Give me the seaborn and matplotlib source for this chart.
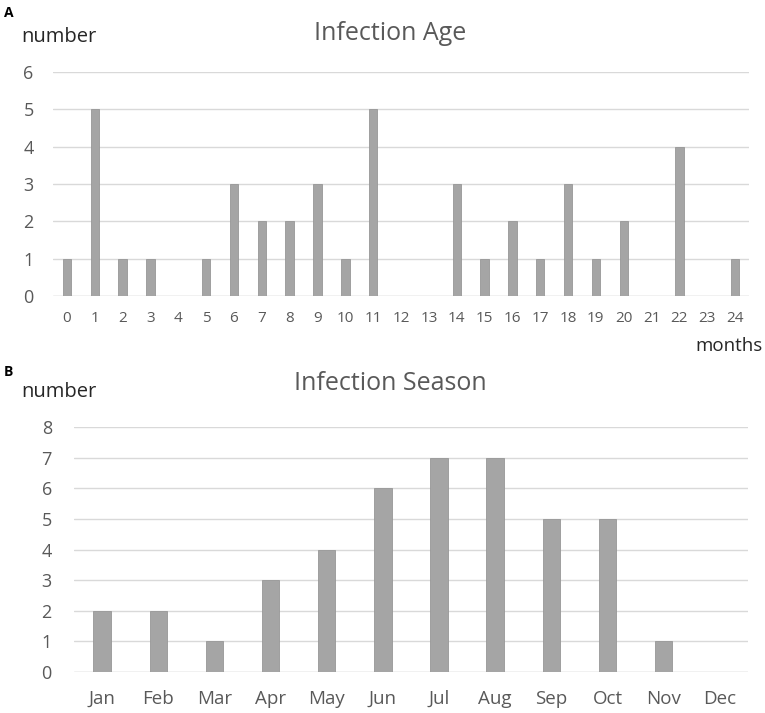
import matplotlib
matplotlib.use("Agg")
import matplotlib.pyplot as plt
import seaborn as sns
import pandas as pd

age_months = [str(i) for i in range(25)]
age_counts = [1, 5, 1, 1, 0, 1, 3, 2, 2, 3, 1, 5, 0, 0, 3, 1, 2, 1, 3, 1, 2, 0, 4, 0, 1]
age_yticks = [0, 1, 2, 3, 4, 5, 6]

season_months = ["Jan", "Feb", "Mar", "Apr", "May", "Jun", "Jul", "Aug", "Sep", "Oct", "Nov", "Dec"]
season_counts = [2, 2, 1, 3, 4, 6, 7, 7, 5, 5, 1, 0]
season_yticks = [0, 1, 2, 3, 4, 5, 6, 7, 8]

sns.set_theme(style="white")
plt.rcParams['font.family'] = ['Open Sans', 'DejaVu Sans']

bar_color = "#a5a5a5"
edge_color = "#979797"
grid_color = "#d9d9d9"
text_color = "#595959"

fig = plt.figure(figsize=(7.65, 7.13), dpi=100)

ax1 = fig.add_axes([0.0693, 0.5849, 0.9098, 0.314])
df1 = pd.DataFrame({"month": age_months, "count": age_counts})
sns.barplot(data=df1, x="month", y="count", color=bar_color, width=0.3,
            edgecolor=edge_color, linewidth=0.6, ax=ax1, zorder=3, saturation=1)
ax1.set_ylim(0, 6)
ax1.set_xlim(-0.5, 24.5)
ax1.set_yticks(age_yticks)
ax1.grid(axis="y", color=grid_color, linewidth=1.0, zorder=0)
ax1.set_axisbelow(True)
for s in ax1.spines.values():
    s.set_visible(False)
ax1.set_xlabel("")
ax1.set_ylabel("")
ax1.tick_params(axis="x", labelsize=11, colors=text_color, length=0, pad=11)
ax1.tick_params(axis="y", labelsize=13, colors=text_color, length=0, pad=14)
ax1.axhline(0, color=grid_color, linewidth=1.0, zorder=1)

ax2 = fig.add_axes([0.0967, 0.0575, 0.8810, 0.3435])
df2 = pd.DataFrame({"month": season_months, "count": season_counts})
sns.barplot(data=df2, x="month", y="count", color=bar_color, width=0.31,
            edgecolor=edge_color, linewidth=0.6, ax=ax2, zorder=3, saturation=1)
ax2.set_ylim(0, 8)
ax2.set_xlim(-0.5, 11.5)
ax2.set_yticks(season_yticks)
ax2.grid(axis="y", color=grid_color, linewidth=1.0, zorder=0)
ax2.set_axisbelow(True)
for s in ax2.spines.values():
    s.set_visible(False)
ax2.set_xlabel("")
ax2.set_ylabel("")
ax2.tick_params(axis="x", labelsize=13.5, colors=text_color, length=0, pad=13)
ax2.tick_params(axis="y", labelsize=13, colors=text_color, length=0, pad=16)
ax2.axhline(0, color=grid_color, linewidth=1.0, zorder=1)

fig.text(390 / 765, 1 - 33 / 713, "Infection Age", ha="center", va="center",
         fontsize=18, color=text_color)
fig.text(390 / 765, 1 - 384 / 713, "Infection Season", ha="center", va="center",
         fontsize=18, color=text_color)
fig.text(21 / 765, 1 - 37 / 713, "number", ha="left", va="center", fontsize=14.5, color="#262626")
fig.text(21 / 765, 1 - 392 / 713, "number", ha="left", va="center", fontsize=14.5, color="#262626")
fig.text(763 / 765, 1 - 346 / 713, "months", ha="right", va="center", fontsize=13.5, color="#262626")
fig.text(4 / 765, 1 - 13 / 713, "A", ha="left", va="center", fontsize=10, fontweight="bold", color="black")
fig.text(4 / 765, 1 - 372 / 713, "B", ha="left", va="center", fontsize=10, fontweight="bold", color="black")

fig.savefig("out.png", dpi=100, facecolor="white")
